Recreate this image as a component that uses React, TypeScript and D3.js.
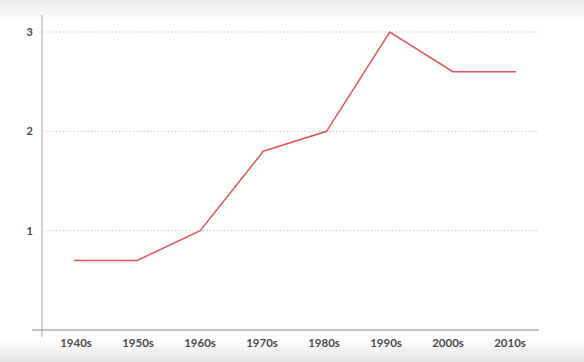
import * as d3 from "d3";
import { useRef, useEffect } from "react";

const decades = ["1940s", "1950s", "1960s", "1970s", "1980s", "1990s", "2000s", "2010s"];
const values = [0.7, 0.7, 1, 1.8, 2, 3, 2.6, 2.6];
const yTicks = [1, 2, 3];

const W = 584;
const H = 362;

function LineChart() {
  const ref = useRef<SVGSVGElement>(null);

  useEffect(() => {
    const svg = d3.select(ref.current);
    svg.selectAll("*").remove();

    // soft screenshot-like shading top and bottom
    const defs = svg.append("defs");
    const top = defs.append("linearGradient").attr("id", "topShade").attr("x1", 0).attr("y1", 0).attr("x2", 0).attr("y2", 1);
    top.append("stop").attr("offset", "0%").attr("stop-color", "#e9e9e9");
    top.append("stop").attr("offset", "100%").attr("stop-color", "#ffffff");
    const bot = defs.append("linearGradient").attr("id", "botShade").attr("x1", 0).attr("y1", 0).attr("x2", 0).attr("y2", 1);
    bot.append("stop").attr("offset", "0%").attr("stop-color", "#ffffff");
    bot.append("stop").attr("offset", "100%").attr("stop-color", "#e2e2e2");

    svg.append("rect").attr("width", W).attr("height", H).attr("fill", "#fff");
    svg.append("rect").attr("width", W).attr("height", 22).attr("fill", "url(#topShade)");
    svg.append("rect").attr("y", 340).attr("width", W).attr("height", 22).attr("fill", "url(#botShade)");

    const x = d3.scalePoint<string>().domain(decades).range([74, 516]);
    // tick labels sit on a slightly narrower spread than the points
    const xLab = d3.scalePoint<string>().domain(decades).range([76, 510]);
    const y = d3.scaleLinear().domain([0, 3]).range([330, 32]);

    // gridlines
    svg
      .selectAll(".grid")
      .data(yTicks)
      .join("line")
      .attr("x1", 42)
      .attr("x2", 538)
      .attr("y1", (d) => y(d))
      .attr("y2", (d) => y(d))
      .attr("stroke", "#bdbdbd")
      .attr("stroke-width", 1)
      .attr("stroke-dasharray", "1.2 2.3");

    // y axis
    svg.append("line").attr("x1", 42).attr("x2", 42).attr("y1", 15).attr("y2", 337).attr("stroke", "#c4c4c4").attr("stroke-width", 1.5);

    // x axis
    svg.append("line").attr("x1", 32).attr("x2", 539).attr("y1", y(0)).attr("y2", y(0)).attr("stroke", "#8a8a8a").attr("stroke-width", 1);

    // y labels
    svg
      .selectAll(".ylab")
      .data(yTicks)
      .join("text")
      .attr("x", 33)
      .attr("y", (d) => y(d))
      .attr("dy", "0.35em")
      .attr("text-anchor", "end")
      .attr("font-family", "Lato, sans-serif")
      .attr("font-weight", 700)
      .attr("font-size", 11)
      .attr("fill", "#4a4a4a")
      .text((d) => d);

    // x labels
    svg
      .selectAll(".xlab")
      .data(decades)
      .join("text")
      .attr("x", (d) => xLab(d) as number)
      .attr("y", 347)
      .attr("text-anchor", "middle")
      .attr("font-family", "Lato, sans-serif")
      .attr("font-weight", 700)
      .attr("font-size", 11.5)
      .attr("fill", "#4a4a4a")
      .text((d) => d);

    const line = d3
      .line<number>()
      .x((_, i) => x(decades[i]) as number)
      .y((d) => y(d));

    svg
      .append("path")
      .datum(values)
      .attr("d", line)
      .attr("fill", "none")
      .attr("stroke", "#e0555b")
      .attr("stroke-width", 1.5);
  }, []);

  return <svg ref={ref} width={W} height={H} style={{ display: "block" }}></svg>;
}

export default function App() {
  return (
    <div style={{ position: "absolute", left: 0, top: 0 }}>
      <LineChart />
    </div>
  );
}
